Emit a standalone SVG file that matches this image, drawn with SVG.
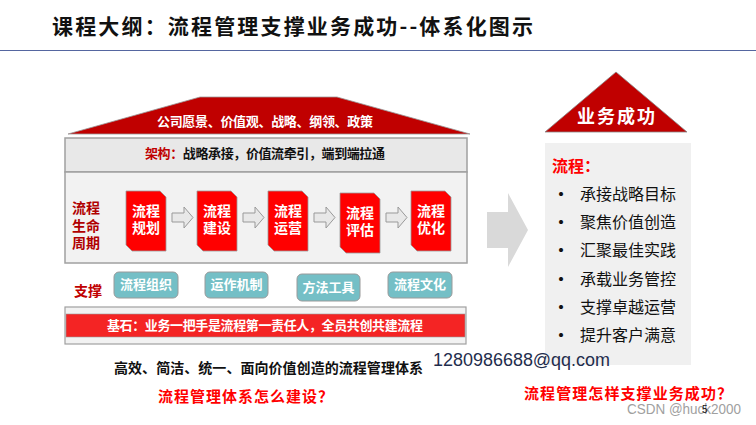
<svg xmlns="http://www.w3.org/2000/svg" width="756" height="425" viewBox="0 0 756 425">
<style>
text{font-family:"Noto Sans CJK SC","Liberation Sans",sans-serif}
.w{fill:#fff;font-weight:bold}
.proc{fill:#FF0000;stroke:#9a9a9a;stroke-width:0.8}
.ptxt{fill:#fff;font-weight:bold;font-size:14px;text-anchor:middle}
.sarrow{fill:#E8E8E8;stroke:#999;stroke-width:1}
.sup{fill:#74BFC6;stroke:#9a9a9a;stroke-width:1}
.stxt{fill:#fff;font-weight:bold;font-size:13px;text-anchor:middle}
.item{font-size:16px;fill:#111}
.dot{font-size:16px;fill:#111;font-weight:bold}
.q{fill:#FF0000;font-weight:bold;font-size:15px}
</style>
<rect width="756" height="425" fill="#fff"/>
<g id="title">
<text x="52" y="34" font-size="21" font-weight="bold" fill="#111" textLength="481" lengthAdjust="spacing">课程大纲：流程管理支撑业务成功--体系化图示</text>
<line x1="0" y1="50.5" x2="756" y2="50.5" stroke="#5566A0" stroke-width="1.2"/>
</g>
<g id="roof">
<polygon points="68,134 200,97 337,97 470,134" fill="#C00000" stroke="#999" stroke-width="0.8"/>
<text class="w" x="265" y="126" font-size="13" text-anchor="middle" textLength="216" lengthAdjust="spacing">公司愿景、价值观、战略、纲领、政策</text>
</g>
<g id="architecture">
<rect x="65" y="138" width="402" height="34" fill="#E8E8E8" stroke="#A0A0A0" stroke-width="1.5"/>
<text x="145" y="158" font-size="13" textLength="240" lengthAdjust="spacing"><tspan fill="#C00000" font-weight="bold">架构：</tspan><tspan fill="#111" font-weight="bold">战略承接，价值流牵引，端到端拉通</tspan></text>
</g>
<g id="lifecycle">
<rect x="65" y="172" width="402" height="91" fill="#F2F2F2" stroke="#A0A0A0" stroke-width="1.5"/>
<text x="72" y="213" font-size="14" font-weight="bold" fill="#B00000">流程</text>
<text x="72" y="231" font-size="14" font-weight="bold" fill="#B00000">生命</text>
<text x="72" y="248" font-size="14" font-weight="bold" fill="#B00000">周期</text>
</g>
<g id="step1">
<polygon class="proc" points="126,191 160,191 166,197 166,251 132,251 126,245"/>
<text class="ptxt" x="146" y="216">流程</text><text class="ptxt" x="146" y="233">规划</text>
</g>
<g id="step2">
<polygon class="proc" points="197,191 231,191 237,197 237,251 203,251 197,245"/>
<text class="ptxt" x="217" y="216">流程</text><text class="ptxt" x="217" y="233">建设</text>
</g>
<g id="step3">
<polygon class="proc" points="268,191 302,191 308,197 308,251 274,251 268,245"/>
<text class="ptxt" x="288" y="216">流程</text><text class="ptxt" x="288" y="233">运营</text>
</g>
<g id="step4">
<polygon class="proc" points="340,193 374,193 380,199 380,253 346,253 340,247"/>
<text class="ptxt" x="360" y="218">流程</text><text class="ptxt" x="360" y="235">评估</text>
</g>
<g id="step5">
<polygon class="proc" points="411,191 445,191 451,197 451,251 417,251 411,245"/>
<text class="ptxt" x="431" y="216">流程</text><text class="ptxt" x="431" y="233">优化</text>
</g>
<g id="connectors">
<polygon class="sarrow" points="172,213 184,213 184,207 193,217.5 184,228 184,222 172,222"/>
<polygon class="sarrow" points="243,213 255,213 255,207 264,217.5 255,228 255,222 243,222"/>
<polygon class="sarrow" points="314,213 326,213 326,207 335,217.5 326,228 326,222 314,222"/>
<polygon class="sarrow" points="386,213 398,213 398,207 407,217.5 398,228 398,222 386,222"/>
<polygon points="487,212 508,212 508,193 528,230 508,267 508,248 487,248" fill="#D9D9D9"/>
</g>
<g id="support">
<text x="74" y="296" font-size="14" fill="#C00000" font-weight="bold">支撑</text>
</g>
<g id="sup1"><rect class="sup" x="114" y="272" width="64" height="26" rx="5"/><text class="stxt" x="146" y="289">流程组织</text></g>
<g id="sup2"><rect class="sup" x="205" y="272" width="63" height="26" rx="5"/><text class="stxt" x="236.5" y="289">运作机制</text></g>
<g id="sup3"><rect class="sup" x="297" y="274" width="63" height="27" rx="5"/><text class="stxt" x="328.5" y="292">方法工具</text></g>
<g id="sup4"><rect class="sup" x="388" y="272" width="64" height="26" rx="5"/><text class="stxt" x="420" y="289">流程文化</text></g>
<g id="foundation">
<rect x="65" y="307" width="401" height="37" fill="#F2F2F2" stroke="#A0A0A0" stroke-width="1.2"/>
<rect x="66" y="314" width="399" height="23" fill="#F42424" stroke="#999" stroke-width="0.6"/>
<text x="107" y="330" font-size="13" fill="#fff" font-weight="bold" textLength="316" lengthAdjust="spacing">基石：业务一把手是流程第一责任人，全员共创共建流程</text>
</g>
<g id="summary">
<text x="114" y="373" font-size="14" font-weight="bold" fill="#111" textLength="309" lengthAdjust="spacing">高效、简洁、统一、面向价值创造的流程管理体系</text>
<text class="q" x="158" y="402" textLength="175" lengthAdjust="spacing">流程管理体系怎么建设？</text>
</g>
<g id="success">
<polygon points="545,132 616,72 687,132" fill="#C00000" stroke="#888" stroke-width="0.8"/>
<text x="577" y="123" font-size="18" font-weight="bold" fill="#fff" textLength="78" lengthAdjust="spacing">业务成功</text>
</g>
<g id="panel">
<rect x="545" y="143" width="146" height="222" fill="#F0F0F0"/>
<text x="552" y="172" font-size="16" font-weight="bold" fill="#FF0000">流程：</text>
<text class="dot" x="553" y="200">•</text><text class="item" x="580" y="200">承接战略目标</text>
<text class="dot" x="553" y="228">•</text><text class="item" x="580" y="228">聚焦价值创造</text>
<text class="dot" x="553" y="256">•</text><text class="item" x="580" y="256">汇聚最佳实践</text>
<text class="dot" x="553" y="285">•</text><text class="item" x="580" y="285">承载业务管控</text>
<text class="dot" x="553" y="313">•</text><text class="item" x="580" y="313">支撑卓越运营</text>
<text class="dot" x="553" y="341">•</text><text class="item" x="580" y="341">提升客户满意</text>
</g>
<g id="footer">
<text x="433" y="366" font-size="18" fill="#1F2D4D" style="font-family:'Liberation Sans',sans-serif" textLength="177" lengthAdjust="spacingAndGlyphs">1280986688@qq.com</text>
<text class="q" x="524" y="399" textLength="208" lengthAdjust="spacing">流程管理怎样支撑业务成功？</text>
<text x="627" y="414" font-size="14" fill="#A0A0A0" style="font-family:'Liberation Sans',sans-serif" textLength="114" lengthAdjust="spacingAndGlyphs">CSDN @huck2000</text>
<text x="702" y="413" font-size="10" fill="#111" style="font-family:'Liberation Sans',sans-serif">5</text>
</g>
</svg>
